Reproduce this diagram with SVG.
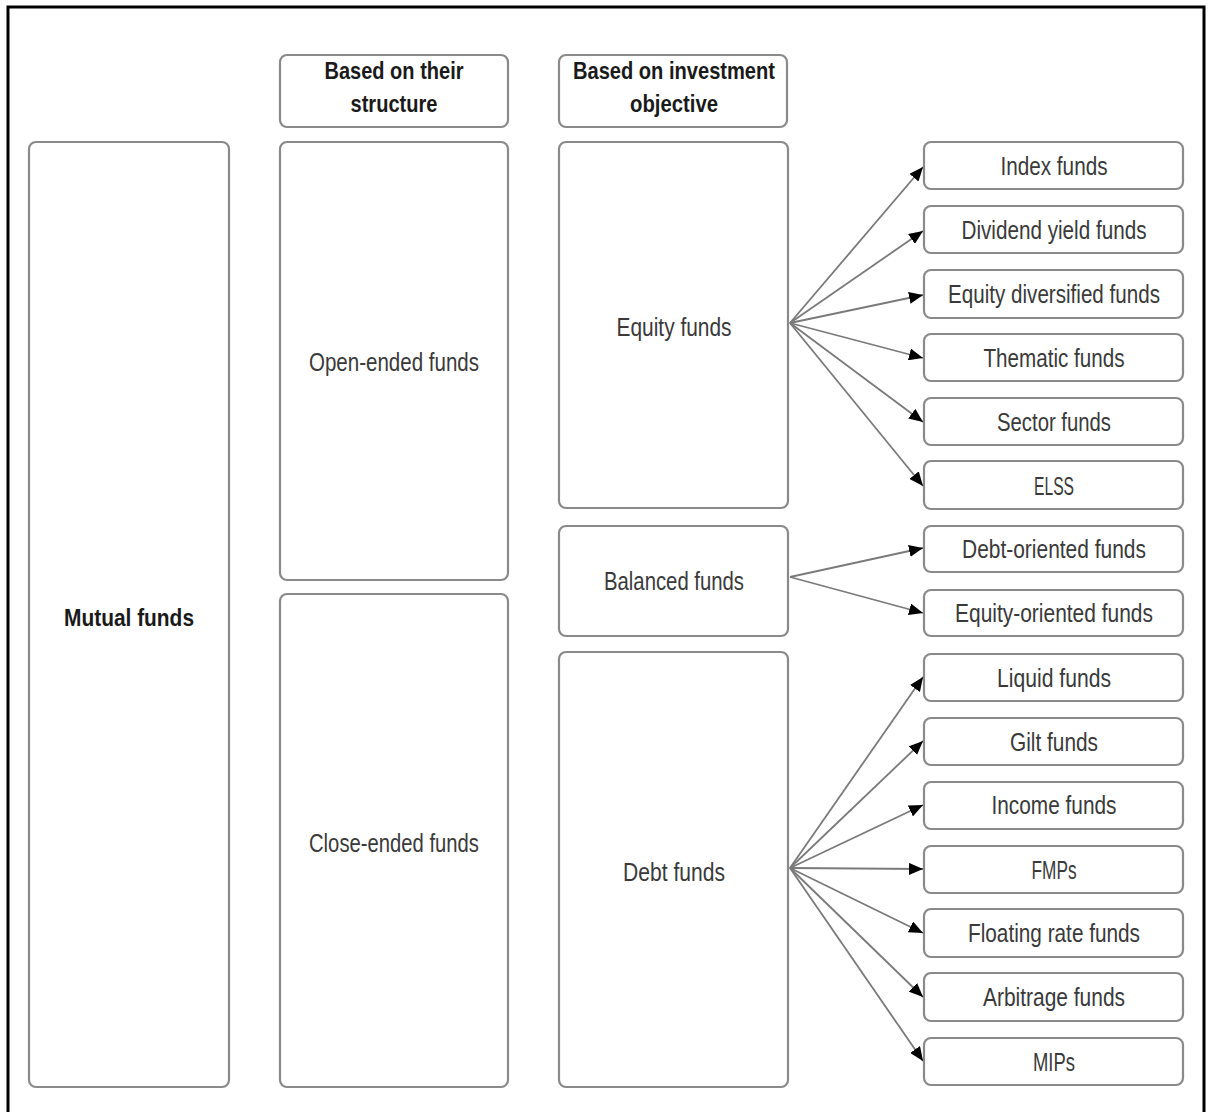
<svg xmlns="http://www.w3.org/2000/svg" width="1208" height="1112" viewBox="0 0 1208 1112">
<defs>
<style>
.box{fill:#fff;stroke:#8a8a8a;stroke-width:2.2}
.t{font-family:"Liberation Sans",Arial,sans-serif;font-size:25px;fill:#3a3a3a;text-anchor:middle}
.b{font-weight:bold;fill:#1a1a1a;font-size:24px}
.c{stroke:#7a7a7a;stroke-width:1.8;fill:none;marker-end:url(#ah)}
</style>
<marker id="ah" viewBox="0 0 14 12" refX="14" refY="6" markerWidth="14" markerHeight="12" markerUnits="userSpaceOnUse" orient="auto">
<path d="M0,0 L14,6 L0,12 z" fill="#000"/>
</marker>
</defs>
<rect x="0" y="0" width="1208" height="1112" fill="#fff"/>
<path d="M8,1112 L8,7 L1204,7 L1204,1112" fill="none" stroke="#000" stroke-width="3"/>

<g id="mutual-funds"><rect class="box" x="29" y="142" width="200" height="945" rx="7"/><text class="t b" x="129" y="626" textLength="130" lengthAdjust="spacingAndGlyphs">Mutual funds</text></g>
<g id="hdr-structure"><rect class="box" x="280" y="55" width="228" height="72" rx="7"/><text class="t b" x="394" y="79" textLength="139" lengthAdjust="spacingAndGlyphs">Based on their</text><text class="t b" x="394" y="112" textLength="87" lengthAdjust="spacingAndGlyphs">structure</text></g>
<g id="open-ended"><rect class="box" x="280" y="142" width="228" height="438" rx="7"/><text class="t" x="394" y="371" textLength="170" lengthAdjust="spacingAndGlyphs">Open-ended funds</text></g>
<g id="close-ended"><rect class="box" x="280" y="594" width="228" height="493" rx="7"/><text class="t" x="394" y="852" textLength="170" lengthAdjust="spacingAndGlyphs">Close-ended funds</text></g>
<g id="hdr-objective"><rect class="box" x="559" y="55" width="228" height="72" rx="7"/><text class="t b" x="674" y="79" textLength="202" lengthAdjust="spacingAndGlyphs">Based on investment</text><text class="t b" x="674" y="112" textLength="88" lengthAdjust="spacingAndGlyphs">objective</text></g>
<g id="equity"><rect class="box" x="559" y="142" width="229" height="366" rx="7"/><text class="t" x="674" y="336" textLength="115" lengthAdjust="spacingAndGlyphs">Equity funds</text></g>
<g id="balanced"><rect class="box" x="559" y="526" width="229" height="110" rx="7"/><text class="t" x="674" y="590" textLength="140" lengthAdjust="spacingAndGlyphs">Balanced funds</text></g>
<g id="debt"><rect class="box" x="559" y="652" width="229" height="435" rx="7"/><text class="t" x="674" y="881" textLength="102" lengthAdjust="spacingAndGlyphs">Debt funds</text></g>

<g id="index"><rect class="box" x="924" y="142" width="259" height="47" rx="7"/><text class="t" x="1054" y="175" textLength="107" lengthAdjust="spacingAndGlyphs">Index funds</text></g>
<g id="dividend"><rect class="box" x="924" y="206" width="259" height="47" rx="7"/><text class="t" x="1054" y="239" textLength="185" lengthAdjust="spacingAndGlyphs">Dividend yield funds</text></g>
<g id="eqdiv"><rect class="box" x="924" y="270" width="259" height="48" rx="7"/><text class="t" x="1054" y="303" textLength="212" lengthAdjust="spacingAndGlyphs">Equity diversified funds</text></g>
<g id="thematic"><rect class="box" x="924" y="334" width="259" height="47" rx="7"/><text class="t" x="1054" y="367" textLength="141" lengthAdjust="spacingAndGlyphs">Thematic funds</text></g>
<g id="sector"><rect class="box" x="924" y="398" width="259" height="47" rx="7"/><text class="t" x="1054" y="431" textLength="114" lengthAdjust="spacingAndGlyphs">Sector funds</text></g>
<g id="elss"><rect class="box" x="924" y="461" width="259" height="48" rx="7"/><text class="t" x="1054" y="495" textLength="40" lengthAdjust="spacingAndGlyphs">ELSS</text></g>
<g id="debtoriented"><rect class="box" x="924" y="526" width="259" height="46" rx="7"/><text class="t" x="1054" y="558" textLength="184" lengthAdjust="spacingAndGlyphs">Debt-oriented funds</text></g>
<g id="eqoriented"><rect class="box" x="924" y="590" width="259" height="46" rx="7"/><text class="t" x="1054" y="622" textLength="198" lengthAdjust="spacingAndGlyphs">Equity-oriented funds</text></g>
<g id="liquid"><rect class="box" x="924" y="654" width="259" height="47" rx="7"/><text class="t" x="1054" y="687" textLength="114" lengthAdjust="spacingAndGlyphs">Liquid funds</text></g>
<g id="gilt"><rect class="box" x="924" y="718" width="259" height="47" rx="7"/><text class="t" x="1054" y="751" textLength="88" lengthAdjust="spacingAndGlyphs">Gilt funds</text></g>
<g id="income"><rect class="box" x="924" y="782" width="259" height="47" rx="7"/><text class="t" x="1054" y="814" textLength="125" lengthAdjust="spacingAndGlyphs">Income funds</text></g>
<g id="fmps"><rect class="box" x="924" y="846" width="259" height="47" rx="7"/><text class="t" x="1054" y="879" textLength="45" lengthAdjust="spacingAndGlyphs">FMPs</text></g>
<g id="floating"><rect class="box" x="924" y="909" width="259" height="48" rx="7"/><text class="t" x="1054" y="942" textLength="172" lengthAdjust="spacingAndGlyphs">Floating rate funds</text></g>
<g id="arbitrage"><rect class="box" x="924" y="973" width="259" height="48" rx="7"/><text class="t" x="1054" y="1006" textLength="142" lengthAdjust="spacingAndGlyphs">Arbitrage funds</text></g>
<g id="mips"><rect class="box" x="924" y="1038" width="259" height="47" rx="7"/><text class="t" x="1054" y="1071" textLength="42" lengthAdjust="spacingAndGlyphs">MIPs</text></g>

<g id="connectors">
<line class="c" x1="790" y1="323" x2="923" y2="167"/>
<line class="c" x1="790" y1="323" x2="923" y2="231"/>
<line class="c" x1="790" y1="323" x2="923" y2="295"/>
<line class="c" x1="790" y1="323" x2="923" y2="358"/>
<line class="c" x1="790" y1="323" x2="923" y2="422"/>
<line class="c" x1="790" y1="323" x2="923" y2="486"/>
<line class="c" x1="790" y1="577" x2="923" y2="548"/>
<line class="c" x1="790" y1="577" x2="923" y2="613"/>
<line class="c" x1="790" y1="868" x2="923" y2="677"/>
<line class="c" x1="790" y1="868" x2="923" y2="741"/>
<line class="c" x1="790" y1="868" x2="923" y2="805"/>
<line class="c" x1="790" y1="868" x2="923" y2="869"/>
<line class="c" x1="790" y1="868" x2="923" y2="933"/>
<line class="c" x1="790" y1="868" x2="923" y2="997"/>
<line class="c" x1="790" y1="868" x2="923" y2="1061"/>
</g>
</svg>
